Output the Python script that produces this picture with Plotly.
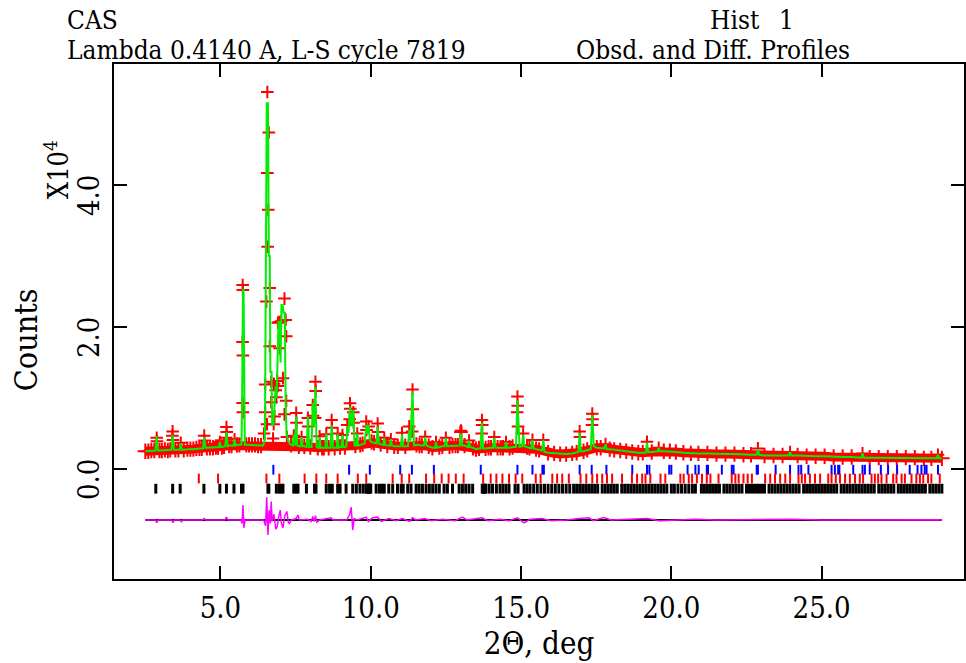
import plotly.graph_objects as go

# ---------------- data (2-theta in deg, intensities in units of 10^4 counts) ----------------
# observed background band (readings of the observed profile between peaks)
bg_x = [2.50, 2.60, 2.70, 2.80, 2.97, 3.05, 3.15, 3.25, 3.33, 3.50, 3.60, 3.78, 3.90, 4.00,
        4.10, 4.20, 4.30, 4.38, 4.55, 4.65, 4.75, 4.85, 4.92, 5.05, 5.12, 5.29, 5.37, 5.55,
        5.63, 5.86, 5.95, 6.05, 6.15, 6.25, 6.35, 7.35, 7.61, 7.79, 7.99, 8.24, 8.38, 8.44,
        8.60, 8.80, 8.98, 9.14, 9.49, 9.65, 9.73, 10.03, 10.11, 10.33, 10.55, 10.78, 10.90,
        11.15, 11.52, 11.62, 11.70, 11.93, 12.05, 12.28, 12.38, 12.62, 12.72, 12.82, 12.90,
        13.12, 13.40, 13.50, 13.60, 13.82, 13.92, 14.00, 14.22, 14.32, 14.40, 14.62, 14.72,
        15.20, 15.28, 15.50, 15.60, 15.90, 16.10, 16.30, 16.50, 16.70, 16.85, 17.08, 17.20,
        17.52, 17.65, 17.95, 18.10, 18.30, 18.50, 18.70, 18.90, 19.05, 19.35, 19.75, 19.95,
        20.15, 20.40, 20.65, 20.90, 21.20, 21.50, 21.80, 22.10, 22.40, 22.65, 23.10, 23.40,
        23.70, 24.20, 24.50, 24.80, 25.10, 25.40, 25.70, 26.00, 26.60, 26.90, 27.20, 27.50,
        27.80, 28.10, 28.40, 28.65, 29.00]
bg_y = [0.25, 0.25, 0.26, 0.26, 0.26, 0.26, 0.27, 0.26, 0.27, 0.27, 0.27, 0.27, 0.28, 0.28,
        0.28, 0.29, 0.29, 0.29, 0.30, 0.30, 0.30, 0.31, 0.31, 0.31, 0.32, 0.33, 0.33, 0.34,
        0.34, 0.34, 0.34, 0.34, 0.34, 0.33, 0.33, 0.34, 0.32, 0.32, 0.31, 0.30, 0.30, 0.30,
        0.30, 0.30, 0.31, 0.31, 0.33, 0.34, 0.35, 0.38, 0.37, 0.35, 0.33, 0.32, 0.32,
        0.32, 0.34, 0.33, 0.33, 0.32, 0.30, 0.31, 0.32, 0.32, 0.33, 0.33, 0.33,
        0.33, 0.30, 0.28, 0.29, 0.29, 0.30, 0.30, 0.30, 0.30, 0.30, 0.30, 0.31,
        0.31, 0.30, 0.28, 0.27, 0.23, 0.22, 0.21, 0.21, 0.22, 0.23, 0.25, 0.27,
        0.30, 0.30, 0.28, 0.27, 0.26, 0.25, 0.24, 0.23, 0.23, 0.24, 0.25, 0.25,
        0.24, 0.23, 0.22, 0.22, 0.22, 0.21, 0.21, 0.21, 0.20, 0.20, 0.19, 0.19,
        0.19, 0.19, 0.18, 0.18, 0.18, 0.17, 0.17, 0.17, 0.16, 0.16, 0.16, 0.16,
        0.16, 0.16, 0.15, 0.15, 0.15]

# observed points on the Bragg peaks
obs_x = [2.88, 2.89, 3.41, 3.40, 3.42, 3.68, 4.46, 4.47, 4.98, 5.20, 5.21, 5.19, 5.47,
         5.74, 5.745, 5.735, 5.745, 5.74, 5.745,
         6.45, 6.49, 6.49, 6.53, 6.55, 6.56, 6.56, 6.57, 6.59, 6.61, 6.64, 6.64, 6.69, 6.69,
         6.75, 6.77, 6.78, 6.80, 6.84, 6.86, 6.89, 6.91, 6.91, 6.95, 6.97, 7.02, 7.08, 7.13,
         7.13, 7.17, 7.19, 7.19, 7.21,
         7.44, 7.52, 7.53, 7.70, 7.91, 7.92, 8.07, 8.08, 8.16, 8.17, 8.15, 8.30, 8.52, 8.70,
         8.71, 8.90, 9.06, 9.22, 9.31, 9.32, 9.30, 9.42, 9.43, 9.55, 9.85, 9.86, 9.93, 10.23,
         10.24, 10.45, 10.67, 11.04, 11.28, 11.39, 11.40, 11.38, 11.81, 12.17, 12.50, 12.98,
         13.00, 13.02, 13.27, 13.70, 13.71, 13.69, 14.11, 14.50, 14.88, 14.89, 14.87, 14.90,
         15.07, 15.38, 15.74, 16.95, 16.96, 17.37, 17.38, 17.36, 17.81, 19.19, 19.58, 22.88,
         23.95, 26.36, 28.87]
obs_y = [0.44, 0.39, 0.53, 0.47, 0.41, 0.37, 0.47, 0.40, 0.38, 0.59, 0.52, 0.44, 0.42,
         2.59, 2.52, 1.79, 1.60, 0.93, 0.80,
         0.50, 1.19, 0.80, 2.36, 0.63, 5.31, 4.17, 3.13, 3.65, 4.74, 2.55, 1.73, 0.94, 1.23,
         0.43, 0.63, 1.20, 0.74, 1.11, 1.01, 1.24, 1.17, 2.06, 2.07, 1.70, 2.08, 1.28, 2.40,
         0.77, 2.10, 1.87, 0.96, 0.45,
         0.47, 0.79, 0.65, 0.45, 0.72, 0.60, 0.90, 0.75, 1.23, 1.10, 0.72, 0.46, 0.49, 0.69,
         0.58, 0.50, 0.48, 0.62, 0.925, 0.85, 0.70, 0.80, 0.65, 0.50, 0.67, 0.55, 0.60, 0.64,
         0.52, 0.44, 0.42, 0.51, 0.60, 1.12, 0.84, 0.53, 0.455, 0.38, 0.44, 0.52,
         0.54, 0.52, 0.40, 0.69, 0.62, 0.50, 0.45, 0.38, 1.02, 0.89, 0.80, 0.60,
         0.50, 0.41, 0.41, 0.53, 0.45, 0.78, 0.70, 0.62, 0.35, 0.385, 0.30, 0.29,
         0.24, 0.22, 0.20]

# calculated profile over the peaks (joins the background readings)
calc_pk_x = [2.84, 2.88, 2.92, 3.37, 3.41, 3.45, 3.65, 3.68, 3.71, 4.42, 4.46, 4.50,
             4.95, 4.98, 5.01, 5.16, 5.20, 5.24, 5.44, 5.47, 5.50,
             5.70, 5.72, 5.73, 5.75, 5.77, 5.79, 5.81,
             6.42, 6.48, 6.50, 6.54, 6.58, 6.61, 6.64, 6.66, 6.70, 6.72, 6.76, 6.80, 6.84,
             6.87, 6.90, 6.93, 6.97, 7.00, 7.03, 7.07, 7.10, 7.14, 7.17, 7.20, 7.24, 7.30,
             7.41, 7.44, 7.47, 7.49, 7.52, 7.56, 7.67, 7.70, 7.73, 7.87, 7.91, 7.95,
             8.03, 8.07, 8.11, 8.16, 8.20, 8.27, 8.30, 8.33, 8.49, 8.52, 8.55, 8.66, 8.70, 8.74,
             8.87, 8.90, 8.93, 9.03, 9.06, 9.09, 9.19, 9.22, 9.26, 9.31, 9.36, 9.42, 9.46,
             9.52, 9.55, 9.58, 9.80, 9.85, 9.89, 9.93, 9.97, 10.19, 10.23, 10.27,
             10.42, 10.45, 10.48, 10.64, 10.67, 10.70, 11.00, 11.04, 11.08,
             11.24, 11.28, 11.32, 11.39, 11.44, 11.77, 11.81, 11.85, 12.14, 12.17, 12.20,
             12.46, 12.50, 12.54, 12.96, 13.00, 13.04, 13.24, 13.27, 13.30, 13.66, 13.70, 13.74,
             14.07, 14.11, 14.15, 14.47, 14.50, 14.53, 14.83, 14.88, 14.92, 14.95,
             15.03, 15.07, 15.11, 15.34, 15.38, 15.42, 15.70, 15.74, 15.78, 16.91, 16.95, 16.99,
             17.32, 17.37, 17.42, 17.77, 17.81, 17.85, 19.15, 19.19, 19.23, 19.55, 19.58, 19.61,
             22.84, 22.88, 22.92, 23.91, 23.95, 23.99, 26.32, 26.36, 26.40, 28.83, 28.87, 28.91]
calc_pk_y = [0.26, 0.46, 0.26, 0.27, 0.48, 0.27, 0.27, 0.36, 0.27, 0.29, 0.45, 0.30,
             0.31, 0.38, 0.31, 0.32, 0.52, 0.32, 0.33, 0.42, 0.33,
             0.34, 0.90, 1.89, 2.52, 2.52, 0.70, 0.34,
             0.33, 0.42, 2.90, 5.15, 5.15, 3.00, 3.00, 1.37, 1.37, 0.62, 0.62, 1.00, 1.16,
             1.00, 1.73, 2.07, 2.07, 1.50, 2.31, 2.31, 2.20, 2.20, 0.90, 0.50, 0.42, 0.36,
             0.33, 0.48, 0.33, 0.33, 0.74, 0.33, 0.32, 0.45, 0.32, 0.31, 0.74, 0.31,
             0.31, 0.93, 0.60, 1.16, 0.31, 0.30, 0.45, 0.30, 0.30, 0.50, 0.30, 0.30, 0.62, 0.30,
             0.30, 0.50, 0.30, 0.31, 0.48, 0.31, 0.32, 0.60, 0.50, 0.88, 0.60, 0.83, 0.33,
             0.33, 0.50, 0.33, 0.36, 0.62, 0.50, 0.62, 0.40, 0.36, 0.60, 0.36,
             0.34, 0.44, 0.34, 0.33, 0.42, 0.33, 0.32, 0.48, 0.32,
             0.32, 0.55, 0.40, 1.09, 0.33, 0.33, 0.45, 0.33, 0.30, 0.38, 0.30,
             0.32, 0.44, 0.32, 0.33, 0.50, 0.33, 0.31, 0.40, 0.31, 0.29, 0.65, 0.29,
             0.30, 0.44, 0.30, 0.30, 0.38, 0.30, 0.31, 0.97, 0.60, 0.31,
             0.32, 0.48, 0.32, 0.29, 0.41, 0.29, 0.26, 0.41, 0.24, 0.24, 0.51, 0.25,
             0.28, 0.76, 0.32, 0.29, 0.35, 0.28, 0.23, 0.37, 0.24, 0.25, 0.30, 0.25,
             0.20, 0.28, 0.20, 0.19, 0.24, 0.19, 0.16, 0.22, 0.16, 0.15, 0.20, 0.15]

# difference curve (obs - calc)
diff_x = [2.50, 2.84, 2.88, 2.92, 3.38, 3.42, 3.46, 3.66, 3.70, 3.74, 4.40, 4.46, 4.52, 5.15,
          5.20, 5.25, 5.68, 5.72, 5.75, 5.78, 5.82, 6.44, 6.50, 6.54, 6.58, 6.62, 6.66, 6.69,
          6.72, 6.78, 6.84, 6.89, 6.94, 6.99, 7.03, 7.08, 7.14, 7.21, 7.26, 7.30, 7.36, 7.52,
          7.58, 7.62, 7.90, 8.02, 8.07, 8.12, 8.16, 8.21, 8.30, 8.68, 8.75, 9.20, 9.30, 9.35,
          9.40, 9.45, 9.55, 9.70, 9.85, 9.92, 10.05, 10.23, 10.35, 10.60, 10.85, 11.05, 11.30,
          11.39, 11.50, 11.80, 12.00, 12.40, 12.80, 13.05, 13.20, 13.70, 13.90, 14.30, 14.60,
          14.88, 15.10, 15.30, 15.70, 16.00, 16.50, 16.95, 17.26, 17.40, 17.75, 18.00, 18.50,
          19.20, 19.60, 20.00, 20.80, 21.50, 22.88, 23.95, 25.00, 26.36, 27.50, 28.87, 29.00]
diff_y = [0.00, 0.00, -0.04, 0.00, 0.00, -0.04, 0.00, 0.00, -0.03, 0.00, 0.00, 0.02, 0.00, 0.00,
          0.04, 0.00, 0.00, -0.05, 0.21, -0.11, 0.00, 0.00, -0.08, 0.32, -0.21, 0.14, -0.05, 0.26,
          -0.02, 0.08, -0.13, -0.09, 0.05, 0.14, -0.05, -0.11, 0.06, 0.12, -0.04, -0.05, 0.00, 0.02,
          0.07, 0.00, 0.01, -0.02, 0.05, -0.02, 0.06, -0.03, 0.00, 0.03, 0.00, 0.00, 0.08, 0.18,
          -0.14, 0.02, 0.00, 0.02, 0.04, -0.02, 0.03, 0.04, -0.02, 0.02, -0.01, 0.02, -0.02,
          0.03, 0.00, 0.02, -0.01, 0.01, -0.01, 0.04, 0.00, 0.03, -0.01, 0.01, -0.01,
          0.03, -0.04, 0.01, 0.02, -0.01, 0.00, 0.02, 0.03, -0.01, 0.035, 0.00, 0.01,
          0.02, -0.01, 0.00, 0.01, 0.00, 0.01, 0.01, 0.00, 0.005, 0.00, 0.005, 0.00]

# reflection positions of the three phases
refl_phase1 = [6.76, 9.28, 9.97, 10.98, 11.37, 12.10, 13.66, 14.88, 15.38, 15.71, 15.76, 16.95,
               17.35, 17.84, 18.70, 19.19, 19.27, 19.93, 20.00, 20.54, 20.80, 20.91, 21.18,
               21.22, 21.68, 22.01, 22.07, 22.84, 22.88, 23.47, 23.95, 24.23, 24.32, 24.56,
               25.33, 25.44, 25.55, 25.59, 26.05, 26.36, 26.44, 26.60, 26.97, 27.21, 27.51,
               27.93, 28.19, 28.32, 28.43, 28.49, 28.87]
refl_phase2 = [4.28, 4.92, 6.53, 6.96, 7.80, 8.19, 8.52, 8.90, 9.57, 9.85, 10.73, 11.03, 11.28,
               11.84, 12.11, 12.36, 12.59, 12.83, 13.09, 13.74, 13.99, 14.18, 14.38, 14.60,
               14.82, 15.04, 15.49, 15.65, 16.04, 16.20, 16.37, 16.59, 16.98, 17.17, 17.37,
               17.53, 17.70, 17.86, 18.03, 18.36, 18.69, 18.86, 19.03, 19.14, 19.30, 19.64,
               19.80, 20.30, 20.41, 20.58, 20.69, 20.85, 21.02, 21.18, 21.30, 21.57, 22.01,
               22.13, 22.24, 22.40, 22.54, 22.68, 23.12, 23.29, 23.45, 23.62, 23.79, 23.95,
               24.23, 24.34, 24.45, 24.61, 24.78, 24.95, 25.22, 25.33, 25.47, 25.61, 25.78,
               25.94, 26.11, 26.27, 26.38, 26.66, 26.77, 26.88, 26.99, 27.16, 27.38, 27.49,
               27.66, 27.77, 27.99, 28.15, 28.27, 28.38, 28.54, 28.65, 28.93]
refl_phase3 = [2.85, 3.41, 3.66, 4.45, 4.98, 5.20, 5.45, 5.70, 5.75, 6.58, 6.61, 6.86, 6.95,
               7.02, 7.08, 7.44, 7.52, 7.58, 7.86, 8.13, 8.18, 8.52, 8.63, 8.72, 8.90, 8.98,
               9.18, 9.40, 9.52, 9.64, 9.75, 9.85, 9.88, 9.91, 9.94, 9.97, 10.00, 10.18, 10.29,
               10.38, 10.45, 10.60, 10.73, 10.89, 11.01, 11.08, 11.23, 11.34, 11.51, 11.61,
               11.72, 11.84, 11.95, 12.06, 12.17, 12.28, 12.44, 12.55, 12.72, 12.94, 13.05,
               13.16, 13.27, 13.39, 13.71, 13.74, 13.77, 13.80, 13.83, 13.94, 14.05, 14.18,
               14.30, 14.40, 14.50, 14.60, 14.80, 14.90, 15.10, 15.20, 15.30, 15.42, 15.54,
               15.66, 15.78, 15.90, 16.02, 16.14, 16.26, 16.38, 16.50, 16.62, 16.75, 16.85,
               16.95, 17.05, 17.15, 17.25, 17.35, 17.45, 17.55, 17.70, 17.80, 17.90, 18.00,
               18.10, 18.20, 18.35, 18.45, 18.55, 18.65, 18.75, 18.85, 18.95, 19.05, 19.15,
               19.25, 19.35, 19.45, 19.55, 19.65, 19.75, 19.85, 20.00, 20.10, 20.22, 20.34,
               20.46, 20.58, 20.70, 20.80, 21.00, 21.10, 21.20, 21.30, 21.40, 21.50, 21.60,
               21.75, 21.85, 21.95, 22.05, 22.15, 22.25, 22.35, 22.50, 22.60, 22.70, 22.80,
               22.90, 23.00, 23.10, 23.25, 23.35, 23.45, 23.55, 23.65, 23.75, 23.85, 23.95,
               24.05, 24.15, 24.25, 24.40, 24.50, 24.60, 24.70, 24.80, 24.90, 25.00, 25.10,
               25.20, 25.30, 25.40, 25.50, 25.65, 25.75, 25.85, 25.95, 26.05, 26.15, 26.25,
               26.35, 26.45, 26.55, 26.65, 26.75, 26.90, 27.00, 27.10, 27.20, 27.30, 27.40,
               27.55, 27.65, 27.75, 27.85, 27.95, 28.05, 28.15, 28.25, 28.35, 28.45, 28.60,
               28.70, 28.80, 28.90, 29.00]

x_ticks = [5, 10, 15, 20, 25]
y_ticks = [0, 2, 4]

# ---------------- styling / positions ----------------
FONT = "DejaVu Serif Condensed, DejaVu Serif, serif"
DIFF_OFFSET = -0.718
ROW1, ROW2, ROW3 = -0.01, -0.134, -0.277
RED, GREEN, BLUE, MAG = "#ff0000", "#00ee00", "#0000ff", "#ff00ff"

fig = go.Figure()

# observed band (background region)
fig.add_trace(go.Scatter(x=bg_x, y=bg_y, mode="lines+markers",
                         line=dict(color=RED, width=9),
                         marker=dict(symbol="cross-thin", size=11, line=dict(color=RED, width=2)),
                         hoverinfo="skip"))
# observed peak points
fig.add_trace(go.Scatter(x=obs_x, y=obs_y, mode="markers",
                         marker=dict(symbol="cross-thin", size=9, line=dict(color=RED, width=2)),
                         hoverinfo="skip"))
# calculated profile
calc_pts = sorted(zip(bg_x + calc_pk_x, bg_y + calc_pk_y))
fig.add_trace(go.Scatter(x=[p[0] for p in calc_pts], y=[p[1] for p in calc_pts], mode="lines",
                         line=dict(color=GREEN, width=2), hoverinfo="skip"))

# reflection markers
for vals, row, col, w in [(refl_phase1, ROW1, BLUE, 2), (refl_phase2, ROW2, RED, 2),
                          (refl_phase3, ROW3, "black", 3)]:
    fig.add_trace(go.Scatter(x=vals, y=[row] * len(vals), mode="markers",
                             marker=dict(symbol="line-ns", size=7, line=dict(color=col, width=w)),
                             hoverinfo="skip"))

# difference curve with its zero line
fig.add_trace(go.Scatter(x=[diff_x[0], diff_x[-1]], y=[DIFF_OFFSET, DIFF_OFFSET], mode="lines",
                         line=dict(color="black", width=2), hoverinfo="skip"))
fig.add_trace(go.Scatter(x=diff_x, y=[DIFF_OFFSET + d for d in diff_y], mode="lines",
                         line=dict(color=MAG, width=1.5), hoverinfo="skip"))

axis_style = dict(showline=True, linewidth=2, linecolor="black", mirror="ticks",
                  ticks="inside", ticklen=13, tickwidth=2, tickcolor="black",
                  showgrid=False, zeroline=False, tickformat=".1f")

fig.update_layout(
    width=966, height=663,
    margin=dict(l=114, r=0, t=64, b=84),
    plot_bgcolor="white", paper_bgcolor="white",
    showlegend=False,
    font=dict(family=FONT, color="black"),
    xaxis=dict(range=[1.459, 29.736], tickvals=x_ticks, tickfont=dict(size=29),
               ticklabelstandoff=2,
               title=dict(text="2\u0398, deg", font=dict(size=31), standoff=6), **axis_style),
    yaxis=dict(range=[-1.549, 5.704], tickvals=y_ticks, showticklabels=False, **axis_style),
)

def px_x(p):
    return (p - 114) / 852.0

def px_y(p):
    return (579 - p) / 515.0

# y tick labels (rotated, as in the original)
for v in y_ticks:
    fig.add_annotation(text=f"{v:.1f}", x=px_x(89), y=v, xref="paper", yref="y",
                       xanchor="center", yanchor="middle", yshift=-11, showarrow=False,
                       textangle=-90, font=dict(family=FONT, size=29, color="black"))

# header lines
header = [
    ("CAS", 66, 19),
    ("Lambda 0.4140 A, L-S cycle 7819", 66, 49),
    ("Hist", 710, 19),
    ("1", 780, 19),
    ("Obsd. and Diff. Profiles", 576, 49),
]
for text, x, y in header:
    fig.add_annotation(text=text, x=px_x(x), y=px_y(y), xref="paper", yref="paper",
                       xanchor="left", yanchor="middle", showarrow=False, height=25,
                       borderpad=0, font=dict(family=FONT, size=26, color="black"))

side = [
    ("Counts", 26, 340, 32),
    ("X10<sup>4</sup>", 56, 170, 27),
]
for text, x, y, size in side:
    fig.add_annotation(text=text, x=px_x(x), y=px_y(y), xref="paper", yref="paper",
                       xanchor="center", yanchor="middle", showarrow=False, textangle=-90,
                       borderpad=0, font=dict(family=FONT, size=size, color="black"))

fig.write_html("out.html", config={"displayModeBar": False},
               post_script="document.body.style.margin='0';")
